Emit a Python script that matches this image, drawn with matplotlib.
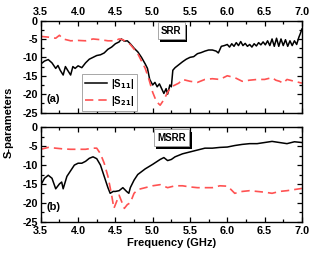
import matplotlib
matplotlib.use("Agg")
import matplotlib.pyplot as plt
import matplotlib.patheffects as pe
from matplotlib.ticker import MultipleLocator

# ---- data: panel (a) SRR ----
f_a_s11 = [3.50, 3.55, 3.60, 3.65, 3.70, 3.73, 3.76, 3.80, 3.83, 3.86, 3.90, 3.93, 3.96, 4.00,
           4.05, 4.10, 4.15, 4.20, 4.25, 4.30, 4.35, 4.40, 4.45, 4.50, 4.55, 4.58, 4.62, 4.66,
           4.70, 4.75, 4.80, 4.85, 4.90, 4.93, 4.96, 5.00, 5.03, 5.06, 5.09, 5.12, 5.15, 5.18,
           5.20, 5.23, 5.25, 5.27, 5.30, 5.35, 5.40, 5.45, 5.50, 5.55, 5.60, 5.65, 5.70, 5.75,
           5.80, 5.85, 5.88, 5.92, 5.96, 6.00, 6.03, 6.06, 6.09, 6.12, 6.15, 6.18, 6.21, 6.24,
           6.27, 6.30, 6.33, 6.36, 6.39, 6.42, 6.45, 6.48, 6.51, 6.54, 6.57, 6.60, 6.63, 6.66,
           6.69, 6.72, 6.75, 6.78, 6.81, 6.84, 6.87, 6.90, 6.93, 6.96, 6.98, 7.00]
s11_a = [-11.8, -11.0, -10.6, -11.5, -13.0, -12.2, -13.5, -14.8, -12.5, -13.5, -14.8, -12.5, -13.0, -12.3,
         -12.8, -11.5, -10.5, -10.0, -9.5, -9.3, -8.8, -7.8, -7.2, -6.3, -5.8, -5.0, -5.6, -5.5,
         -6.3, -7.5, -8.5, -10.0, -11.8, -13.0, -16.0, -17.5, -16.8, -18.0, -17.2, -18.5, -19.8, -18.5,
         -20.0, -17.5, -18.0, -13.5, -12.8, -12.0, -11.2, -10.5, -10.0, -9.8, -9.0, -8.7, -8.3, -8.0,
         -8.0, -8.3, -8.8, -7.0, -6.8, -6.5, -7.2, -6.3, -7.0, -6.0, -6.8, -5.7, -6.8, -6.2,
         -7.0, -6.5, -7.2, -6.3, -6.9, -6.0, -6.6, -5.8, -6.6, -5.5, -6.8, -5.0, -7.0, -4.8,
         -7.0, -5.0, -6.8, -5.2, -7.0, -5.5, -6.8, -5.5, -6.5, -4.5, -3.5, -2.3]
f_a_s21 = [3.50, 3.60, 3.70, 3.75, 3.80, 3.90, 4.00, 4.10, 4.20, 4.30, 4.40, 4.50, 4.55, 4.60,
           4.70, 4.80, 4.85, 4.90, 4.95, 5.00, 5.05, 5.10, 5.15, 5.20, 5.25, 5.30, 5.35, 5.40,
           5.50, 5.60, 5.70, 5.80, 5.90, 6.00, 6.10, 6.20, 6.30, 6.40, 6.50, 6.60, 6.65, 6.70,
           6.75, 6.80, 6.90, 7.00]
s21_a = [-4.3, -4.5, -4.8, -4.0, -5.0, -5.5, -5.4, -5.5, -5.0, -5.2, -5.5, -5.5, -5.0, -5.2,
         -6.5, -9.0, -11.0, -13.0, -16.0, -19.5, -22.0, -23.0, -21.5, -19.5, -18.0, -17.5, -17.0, -16.0,
         -16.5, -16.8, -16.0, -15.8, -16.0, -15.0, -15.5, -16.5, -16.2, -16.0, -16.0, -15.5, -16.2, -16.5,
         -17.0, -16.0, -16.5, -17.0]

# ---- data: panel (b) MSRR ----
f_b_s11 = [3.50, 3.55, 3.60, 3.65, 3.70, 3.75, 3.78, 3.80, 3.85, 3.90, 3.95, 4.00, 4.05, 4.10,
           4.15, 4.20, 4.25, 4.30, 4.35, 4.40, 4.43, 4.47, 4.50, 4.55, 4.60, 4.65, 4.68, 4.70,
           4.75, 4.80, 4.90, 5.00, 5.10, 5.15, 5.20, 5.25, 5.30, 5.40, 5.50, 5.60, 5.70, 5.80,
           5.90, 6.00, 6.10, 6.20, 6.30, 6.40, 6.50, 6.60, 6.70, 6.80, 6.90, 7.00]
s11_b = [-15.3, -13.5, -12.7, -13.5, -16.3, -15.0, -14.5, -16.3, -13.0, -11.5, -10.0, -9.5, -9.5, -9.0,
         -8.2, -7.8, -8.3, -10.0, -13.0, -16.0, -17.5, -17.0, -17.0, -16.8, -16.0, -17.0, -17.5, -16.0,
         -14.0, -12.5, -11.0, -9.8, -8.5, -8.0, -8.8, -8.5, -7.8, -7.0, -6.5, -6.0, -5.5, -5.5,
         -5.3, -5.2, -4.8, -4.5, -4.3, -4.3, -4.0, -3.7, -4.0, -4.3, -3.8, -4.0]
f_b_s21 = [3.50, 3.60, 3.70, 3.80, 3.90, 4.00, 4.10, 4.20, 4.25, 4.30, 4.35, 4.40, 4.45, 4.48,
           4.52, 4.55, 4.58, 4.62, 4.66, 4.70, 4.75, 4.80, 4.90, 5.00, 5.10, 5.20, 5.30, 5.40,
           5.50, 5.60, 5.70, 5.80, 5.90, 6.00, 6.05, 6.10, 6.20, 6.30, 6.40, 6.50, 6.60, 6.70,
           6.80, 6.90, 7.00]
s21_b = [-5.8, -5.3, -5.5, -5.7, -5.8, -5.8, -5.8, -5.5, -5.5, -7.0, -9.5, -13.0, -18.0, -21.5,
         -19.5, -18.0, -19.5, -21.5, -20.5, -20.0, -17.5, -16.5, -16.0, -15.5, -15.2, -16.0, -15.5, -15.5,
         -15.8, -16.0, -16.0, -16.0, -15.5, -15.6, -16.5, -17.5, -17.0, -16.8, -17.0, -17.2, -17.5, -17.0,
         -16.8, -16.5, -16.2]

x_ticks = [3.5, 4.0, 4.5, 5.0, 5.5, 6.0, 6.5, 7.0]
y_ticks = [0, -5, -10, -15, -20, -25]
labels = ["|S$_{11}$|", "|S$_{21}$|"]
panel_names = ["SRR", "MSRR"]
panel_tags = ["(a)", "(b)"]

plt.rcParams['font.family'] = ['Liberation Sans', 'DejaVu Sans']
plt.rcParams['font.weight'] = 'bold'
plt.rcParams['mathtext.default'] = 'bf'

fig = plt.figure(figsize=(3.09, 2.57), dpi=100)
ax1 = fig.add_axes([0.132, 0.562, 0.845, 0.358])
ax2 = fig.add_axes([0.132, 0.138, 0.845, 0.366])

red = '#ff5252'
for ax, fs11, s11, fs21, s21, name, tag in [
        (ax1, f_a_s11, s11_a, f_a_s21, s21_a, panel_names[0], panel_tags[0]),
        (ax2, f_b_s11, s11_b, f_b_s21, s21_b, panel_names[1], panel_tags[1])]:
    ax.plot(fs11, s11, color='black', lw=1.1, label=labels[0])
    ax.plot(fs21, s21, color=red, lw=1.2, ls=(0, (5, 3)), label=labels[1])
    ax.set_xlim(3.5, 7.0)
    ax.set_ylim(-25, 0)
    ax.set_xticks(x_ticks)
    ax.set_yticks(y_ticks)
    ax.xaxis.set_minor_locator(MultipleLocator(0.25))
    ax.yaxis.set_minor_locator(MultipleLocator(2.5))
    ax.tick_params(which='both', direction='in', top=True, right=True, labelsize=7.8, width=0.9)
    ax.tick_params(which='major', length=3.5)
    ax.tick_params(which='minor', length=2)
    for sp in ax.spines.values():
        sp.set_linewidth(1.0)
    ax.set_xticklabels([f"{v:.1f}" for v in x_ticks])
    ax.set_yticklabels([f"{v}" for v in y_ticks])
    t = ax.text(0.5, 0.89, name, transform=ax.transAxes, ha='center', va='center',
                fontsize=7, fontweight='bold',
                bbox=dict(boxstyle='square,pad=0.35', fc='white', ec='#999999', lw=0.6))
    t.get_bbox_patch().set_path_effects([
        pe.SimplePatchShadow(offset=(1.8, -1.8), shadow_rgbFace='black', alpha=1.0),
        pe.Normal()])
    ax.text(0.022, 0.15, tag, transform=ax.transAxes, ha='left', va='center',
            fontsize=8, fontweight='bold')

ax1.tick_params(axis='x', labelbottom=False, labeltop=True, pad=2.5)
ax2.tick_params(axis='x', labelbottom=True, labeltop=False, pad=3)
for ax in (ax1, ax2):
    ax.tick_params(axis='y', pad=2)

leg = ax1.legend(loc='lower left', bbox_to_anchor=(0.158, 0.02), borderaxespad=0,
                 fontsize=7, handlelength=2.3, handletextpad=0.35, borderpad=0.3,
                 labelspacing=0.3, fancybox=False, framealpha=1, edgecolor='#999999')
leg.get_frame().set_linewidth(0.6)

ax2.set_xlabel("Frequency (GHz)", fontsize=8, fontweight='bold', labelpad=2)
fig.text(0.027, 0.525, "S-parameters", rotation=90, ha='center', va='center',
         fontsize=8, fontweight='bold')

fig.savefig("out.png", dpi=100)
